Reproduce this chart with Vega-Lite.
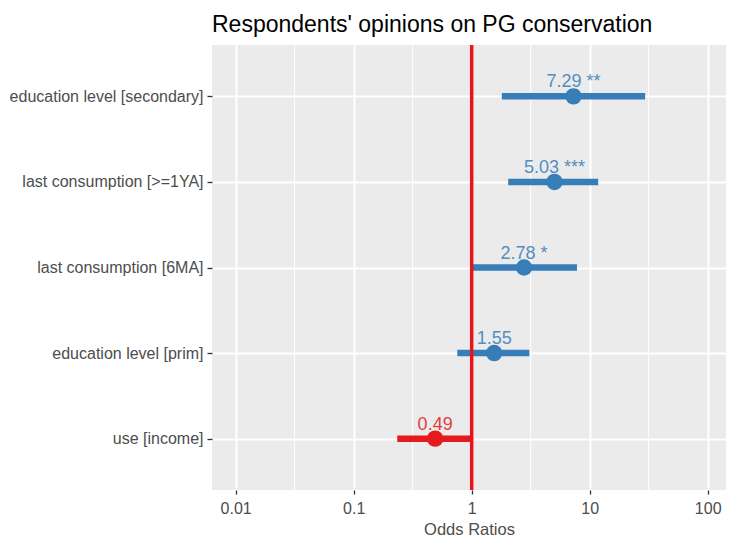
{
  "$schema": "https://vega.github.io/schema/vega-lite/v6.json",
  "autosize": {"type": "none"},
  "padding": {"left": 212, "top": 45, "right": 3, "bottom": 48},
  "width": 514,
  "height": 445,
  "background": "white",
  "config": {
    "view": {"fill": "#EBEBEB", "stroke": null},
    "font": "Liberation Sans"
  },
  "title": {
    "text": "Respondents' opinions on PG conservation",
    "anchor": "start",
    "frame": "group",
    "fontSize": 23,
    "fontWeight": "normal",
    "color": "#000000",
    "baseline": "alphabetic",
    "offset": -12
  },
  "datasets": {
    "est": [
      {"term": "education level [secondary]", "or": 7.29, "lo": 1.80, "hi": 29.5, "label": "7.29 **", "dir": "pos"},
      {"term": "last consumption [>=1YA]", "or": 5.03, "lo": 2.04, "hi": 11.8, "label": "5.03 ***", "dir": "pos"},
      {"term": "last consumption [6MA]", "or": 2.78, "lo": 1.01, "hi": 7.8, "label": "2.78 *", "dir": "pos"},
      {"term": "education level [prim]", "or": 1.55, "lo": 0.755, "hi": 3.08, "label": "1.55", "dir": "pos"},
      {"term": "use [income]", "or": 0.49, "lo": 0.234, "hi": 1.0, "label": "0.49", "dir": "neg"}
    ],
    "minor": [
      {"v": 0.0316}, {"v": 0.316}, {"v": 3.16}, {"v": 31.6}
    ],
    "ref": [{"v": 1}]
  },
  "layer": [
    {
      "data": {"name": "minor"},
      "mark": {"type": "rule", "color": "#FFFFFF", "strokeWidth": 1},
      "encoding": {
        "x": {
          "field": "v", "type": "quantitative",
          "scale": {"type": "log", "domain": [0.0063, 142.9], "nice": false},
          "axis": {
            "values": [0.01, 0.1, 1, 10, 100],
            "labelExpr": "datum.value == 0.01 ? '0.01' : datum.value == 0.1 ? '0.1' : format(datum.value, 'd')",
            "title": "Odds Ratios",
            "titleFontSize": 16.5,
            "titleFontWeight": "normal",
            "titleColor": "#4D4D4D",
            "titlePadding": 5,
            "labelFontSize": 16,
            "labelColor": "#4D4D4D",
            "labelPadding": 6,
            "labelFlush": false,
            "tickSize": 4,
            "tickColor": "#333333",
            "tickWidth": 1.3,
            "domain": false,
            "grid": true,
            "gridColor": "#FFFFFF",
            "gridWidth": 2
          }
        }
      }
    },
    {
      "data": {"name": "est"},
      "mark": {"type": "rule", "strokeWidth": 6.5},
      "encoding": {
        "x": {"field": "lo", "type": "quantitative", "scale": {"type": "log"}},
        "x2": {"field": "hi"},
        "y": {
          "field": "term", "type": "nominal",
          "sort": ["education level [secondary]", "last consumption [>=1YA]", "last consumption [6MA]", "education level [prim]", "use [income]"],
          "scale": {"type": "point", "padding": 0.6},
          "axis": {
            "title": null,
            "labelFontSize": 16,
            "labelLimit": 400,
            "labelColor": "#4D4D4D",
            "labelPadding": 4,
            "tickSize": 5,
            "tickColor": "#333333",
            "tickWidth": 1.3,
            "domain": false,
            "grid": true,
            "gridColor": "#FFFFFF",
            "gridWidth": 2
          }
        },
        "color": {
          "field": "dir", "type": "nominal",
          "scale": {"domain": ["pos", "neg"], "range": ["#377EB8", "#E41A1C"]},
          "legend": null
        }
      }
    },
    {
      "data": {"name": "ref"},
      "mark": {"type": "rule", "color": "#E8141B", "strokeWidth": 3.5},
      "encoding": {
        "x": {"field": "v", "type": "quantitative"}
      }
    },
    {
      "data": {"name": "est"},
      "mark": {"type": "point", "shape": "circle", "filled": true, "opacity": 1, "size": 270},
      "encoding": {
        "x": {"field": "or", "type": "quantitative"},
        "y": {"field": "term", "type": "nominal", "sort": ["education level [secondary]", "last consumption [>=1YA]", "last consumption [6MA]", "education level [prim]", "use [income]"]},
        "color": {"field": "dir", "type": "nominal", "legend": null}
      }
    },
    {
      "data": {"name": "est"},
      "mark": {"type": "text", "fontSize": 18, "align": "center", "baseline": "alphabetic", "dy": -9, "opacity": 0.85},
      "encoding": {
        "x": {"field": "or", "type": "quantitative"},
        "y": {"field": "term", "type": "nominal", "sort": ["education level [secondary]", "last consumption [>=1YA]", "last consumption [6MA]", "education level [prim]", "use [income]"]},
        "text": {"field": "label"},
        "color": {"field": "dir", "type": "nominal", "legend": null}
      }
    }
  ]
}
